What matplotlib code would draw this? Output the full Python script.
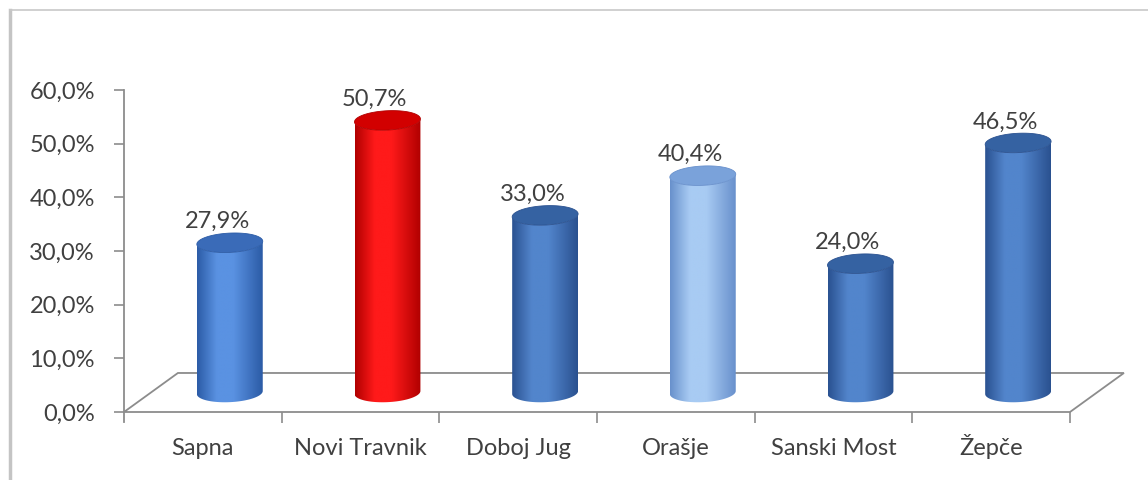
import numpy as np
import matplotlib.pyplot as plt
from matplotlib.path import Path
from matplotlib.patches import PathPatch, Polygon
from matplotlib.colors import LinearSegmentedColormap
from matplotlib.lines import Line2D

cats = ['Sapna', 'Novi Travnik', 'Doboj Jug', 'Orašje', 'Sanski Most', 'Žepče']
vals = [27.9, 50.7, 33.0, 40.4, 24.0, 46.5]
yticks = [0, 10, 20, 30, 40, 50, 60]
# (edge, highlight, top) colours for each bar
bar_cols = [
    ('#2b5ba6', '#5a92e2', '#3a6bb8'),
    ('#b00000', '#ff1a1a', '#d20000'),
    ('#2a5190', '#5285cc', '#3562a2'),
    ('#6890cc', '#a8cbf3', '#7aa2da'),
    ('#2a5190', '#5285cc', '#3562a2'),
    ('#2a5190', '#5285cc', '#3562a2'),
]

plt.rcParams['font.family'] = ['Lato', 'DejaVu Sans']
txt_col = '#404040'
grey = '#8c8c8c'

fig = plt.figure(figsize=(11.48, 4.8), dpi=100)
ax = fig.add_axes([124 / 1148, 68 / 480, 946 / 1148, 322 / 480])
ax.set_xlim(0, 6)
ax.set_ylim(0, 60)
for s in ax.spines.values():
    s.set_visible(False)

# depth of the 3d floor (data units)
dx, dy = 0.342, 7.27
mx, my = dx / 2, dy / 2

floor = Polygon([(0, 0), (6, 0), (6 + dx, dy), (dx, dy)], closed=True,
                facecolor='white', edgecolor=grey, lw=1.3, clip_on=False, zorder=1)
ax.add_patch(floor)
ax.add_line(Line2D([0, 0], [-1.8, 60], color=grey, lw=1.3, clip_on=False, zorder=2))

ax.set_yticks(yticks)
ax.set_yticklabels(['{:.1f}%'.format(v).replace('.', ',') for v in yticks],
                   fontsize=17, color=txt_col)
ax.tick_params(axis='y', length=7, width=1.2, color=grey, pad=14)
ax.set_xticks(np.arange(6) + 0.5)
ax.set_xticklabels(cats, fontsize=17, color=txt_col)
for lab in ax.get_xticklabels():
    lab.set_verticalalignment('baseline')
ax.tick_params(axis='x', length=0, pad=31)
ax.set_xticks(np.arange(1, 7), minor=True)
ax.tick_params(axis='x', which='minor', length=8, width=1.2, color=grey)

hw = 0.209   # half width of cylinder
b = 1.8      # ellipse half height
tilt = 0.28
t = np.linspace(np.pi, 2 * np.pi, 60)
tt = np.linspace(0, 2 * np.pi, 120)

for i, v in enumerate(vals):
    xc = i + 0.5 + mx
    y0 = my
    y1 = my + v
    dark, light, top = bar_cols[i]
    cmap = LinearSegmentedColormap.from_list('c%d' % i, [(0, dark), (0.3, light), (0.55, light), (1, dark)])
    bx = xc + hw * np.cos(t)
    by = y0 + b * np.sin(t) + tilt * np.cos(t)
    tx = xc + hw * np.cos(t[::-1])
    ty = y1 + b * np.sin(t[::-1]) + tilt * np.cos(t[::-1])
    verts = np.column_stack([np.r_[bx, tx], np.r_[by, ty]])
    path = Path(np.vstack([verts, verts[:1]]), closed=True)
    clip = PathPatch(path, transform=ax.transData, facecolor='none', edgecolor='none')
    ax.add_patch(clip)
    grad = np.linspace(0, 1, 256).reshape(1, -1)
    im = ax.imshow(grad, cmap=cmap, aspect='auto', extent=[xc - hw, xc + hw, y0 - b - 1, y1 + b],
                   origin='lower', zorder=3, interpolation='bilinear')
    im.set_clip_path(clip)
    topx = xc + hw * np.cos(tt)
    topy = y1 + b * np.sin(tt) + tilt * np.cos(tt)
    ax.add_patch(Polygon(np.column_stack([topx, topy]), closed=True, facecolor=top,
                         edgecolor=dark, lw=0.6, zorder=4))
    ax.text(xc - 0.08, y1 + b + 0.9, '{:.1f}%'.format(v).replace('.', ','),
            ha='center', va='baseline', fontsize=17, color=txt_col, zorder=5)

ax.set_xlim(0, 6)
ax.set_ylim(0, 60)

# outer chart frame
fig.add_artist(Line2D([9.5 / 1148, 9.5 / 1148], [0, 470 / 480], color='#c4c4c4', lw=2.5,
                      transform=fig.transFigure))
fig.add_artist(Line2D([9.5 / 1148, 1], [470 / 480, 470 / 480], color='#c8c8c8', lw=1.2,
                      transform=fig.transFigure))

plt.savefig('out.png', dpi=100)
